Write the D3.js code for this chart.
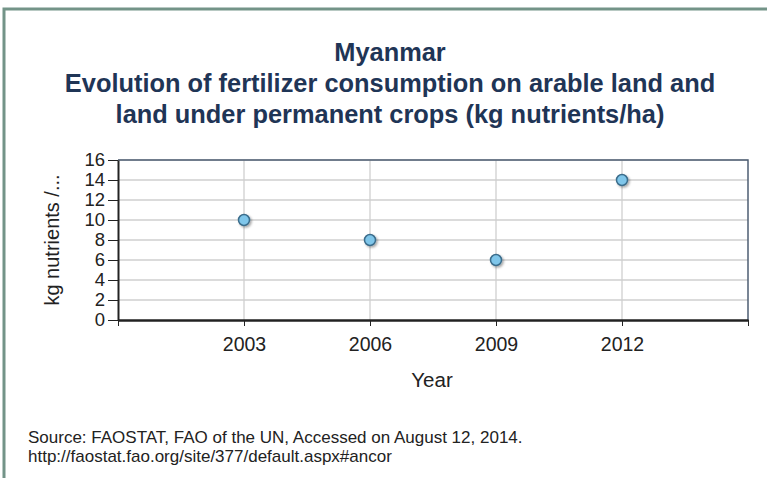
<!DOCTYPE html>
<html>
<head>
<meta charset="utf-8">
<script src="https://cdn.jsdelivr.net/npm/d3@7"></script>
<style>
  body { margin: 0; background: #fff; }
  svg { display: block; font-family: Arial, "Liberation Sans", sans-serif; }
</style>
</head>
<body>
<div id="chart"></div>
<script>
/**
 * DATA
 * */
const years = [2003, 2006, 2009, 2012];
const values = [10, 8, 6, 14];
const yTicks = [0, 2, 4, 6, 8, 10, 12, 14, 16];
const titleLines = [
  "Myanmar",
  "Evolution of fertilizer consumption on arable land and",
  "land under permanent crops (kg nutrients/ha)"
];
const sourceLines = [
  "Source: FAOSTAT, FAO of the UN, Accessed on August 12, 2014.",
  "http://faostat.fao.org/site/377/default.aspx#ancor"
];

/**
 * CONSTANTS
 * */
const width = 767,
  height = 478,
  margin = { top: 160, bottom: 158, left: 118, right: 19 };

const svg = d3.select("#chart")
  .append("svg")
  .attr("width", width)
  .attr("height", height);

// outer frame (top + left edges visible)
svg.append("rect")
  .attr("x", 4).attr("y", 9)
  .attr("width", width + 10).attr("height", height)
  .attr("fill", "none")
  .attr("stroke", "#739488")
  .attr("stroke-width", 3);

/**********/
/* SCALES */
/**********/
const x = d3.scaleLinear()
  .domain([2000, 2015])
  .range([margin.left, width - margin.right]);

const y = d3.scaleLinear()
  .domain([0, 16])
  .range([height - margin.bottom, margin.top]);

// shadow for markers
const defs = svg.append("defs");
const f = defs.append("filter").attr("id", "shadow")
  .attr("x", "-50%").attr("y", "-50%").attr("width", "200%").attr("height", "200%");
f.append("feDropShadow")
  .attr("dx", 1.5).attr("dy", 1.5).attr("stdDeviation", 1)
  .attr("flood-color", "#000").attr("flood-opacity", 0.35);

/*********/
/* GRID  */
/*********/
svg.append("g")
  .selectAll("line")
  .data(yTicks.slice(1))
  .join("line")
  .attr("x1", x.range()[0]).attr("x2", x.range()[1])
  .attr("y1", d => y(d)).attr("y2", d => y(d))
  .attr("stroke", "#cfcfcf")
  .attr("stroke-width", 1.3);

svg.append("g")
  .selectAll("line")
  .data(years)
  .join("line")
  .attr("x1", d => x(d)).attr("x2", d => x(d))
  .attr("y1", y(0)).attr("y2", y(16))
  .attr("stroke", "#cfcfcf")
  .attr("stroke-width", 1.3);

// plot border top + right
svg.append("path")
  .attr("d", `M${x(2000)},${y(16)}H${x(2015)}V${y(0)}`)
  .attr("fill", "none")
  .attr("stroke", "#4d5d73")
  .attr("stroke-width", 1.5);

/********/
/* AXES */
/********/
const yAxis = svg.append("g")
  .attr("transform", `translate(${margin.left},0)`)
  .call(d3.axisLeft(y).tickValues(yTicks).tickSize(10).tickSizeOuter(0));
yAxis.select(".domain").attr("stroke", "#222").attr("stroke-width", 2);
yAxis.selectAll(".tick line").attr("stroke", "#222");
yAxis.selectAll("text")
  .attr("x", -13)
  .attr("font-size", 18.5)
  .attr("fill", "#222");

const xAxis = svg.append("g")
  .attr("transform", `translate(0,${y(0)})`)
  .call(d3.axisBottom(x).tickValues([2000].concat(years, [2015])).tickFormat(d => (d === 2000 || d === 2015) ? "" : d).tickSize(6).tickSizeOuter(0));
xAxis.select(".domain").attr("stroke", "#222").attr("stroke-width", 2.5);
xAxis.selectAll(".tick line").attr("stroke", "#222");
xAxis.selectAll("text")
  .attr("y", 17)
  .attr("font-size", 19.5)
  .attr("fill", "#222");

// axis titles
svg.append("text")
  .attr("transform", `translate(59,${y(8)}) rotate(-90)`)
  .attr("text-anchor", "middle")
  .attr("font-size", 20)
  .attr("fill", "#222")
  .text("kg nutrients /...");

svg.append("text")
  .attr("x", 432).attr("y", 387)
  .attr("text-anchor", "middle")
  .attr("font-size", 20.5)
  .attr("fill", "#222")
  .text("Year");

/**********/
/* POINTS */
/**********/
svg.append("g")
  .selectAll("circle")
  .data(years.map((d, i) => ({ year: d, value: values[i] })))
  .join("circle")
  .attr("cx", d => x(d.year))
  .attr("cy", d => y(d.value))
  .attr("r", 5.5)
  .attr("fill", "#7fc6ea")
  .attr("stroke", "#3b6d8c")
  .attr("stroke-width", 1.5)
  .attr("filter", "url(#shadow)");

/*********/
/* TITLE */
/*********/
svg.append("g")
  .selectAll("text")
  .data(titleLines)
  .join("text")
  .attr("x", 390)
  .attr("y", (d, i) => 61 + i * 31)
  .attr("text-anchor", "middle")
  .attr("font-size", 25.4)
  .attr("font-weight", "bold")
  .attr("fill", "#1f3556")
  .text(d => d);

/**********/
/* SOURCE */
/**********/
svg.append("g")
  .selectAll("text")
  .data(sourceLines)
  .join("text")
  .attr("x", 28)
  .attr("y", (d, i) => 443 + i * 18.5)
  .attr("font-size", 17)
  .attr("fill", "#222")
  .text(d => d);
</script>
</body>
</html>
